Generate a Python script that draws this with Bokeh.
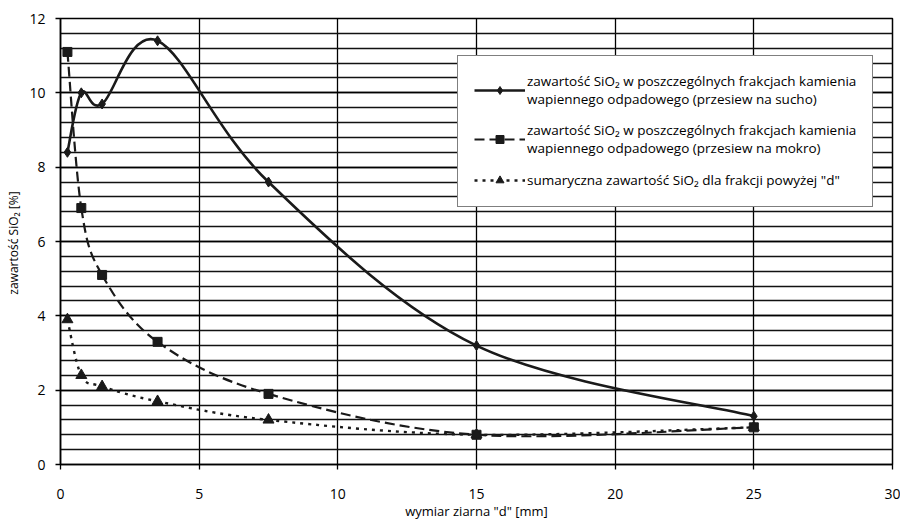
import numpy as np
from bokeh.plotting import figure
from bokeh.models import (ColumnDataSource, Legend, LegendItem, SingleIntervalTicker,
                          Range1d)
from bokeh.embed import file_html
from bokeh.resources import INLINE

# ---- data ----
d_mm = [0.25, 0.75, 1.5, 3.5, 7.5, 15, 25]
sucho = [8.4, 10.0, 9.7, 11.4, 7.6, 3.2, 1.3]
mokro = [11.1, 6.9, 5.1, 3.3, 1.9, 0.8, 1.0]
sumaryczna = [3.9, 2.4, 2.1, 1.7, 1.2, 0.8, 1.0]

labels = [
    "zawartość SiO₂ w poszczególnych frakcjach kamienia\nwapiennego odpadowego (przesiew na sucho)",
    "zawartość SiO₂ w poszczególnych frakcjach kamienia\nwapiennego odpadowego (przesiew na mokro)",
    "sumaryczna zawartość SiO₂ dla frakcji powyżej \"d\"",
]

FONT = "Open Sans"


def smooth_segments(xs, ys):
    """Cubic Bezier segments (Catmull-Rom style control points) through the points."""
    x = np.asarray(xs, float)
    y = np.asarray(ys, float)
    xp = np.concatenate([[x[0]], x, [x[-1]]])
    yp = np.concatenate([[y[0]], y, [y[-1]]])
    n = len(x)
    x0, y0, x1, y1, cx0, cy0, cx1, cy1 = [], [], [], [], [], [], [], []
    for i in range(n - 1):
        p0 = (xp[i], yp[i]); p1 = (xp[i + 1], yp[i + 1])
        p2 = (xp[i + 2], yp[i + 2]); p3 = (xp[i + 3], yp[i + 3])
        x0.append(p1[0]); y0.append(p1[1]); x1.append(p2[0]); y1.append(p2[1])
        cx0.append(p1[0] + (p2[0] - p0[0]) / 6.0)
        cy0.append(p1[1] + (p2[1] - p0[1]) / 6.0)
        cx1.append(p2[0] - (p3[0] - p1[0]) / 6.0)
        cy1.append(p2[1] - (p3[1] - p1[1]) / 6.0)
    return ColumnDataSource(dict(x0=x0, y0=y0, x1=x1, y1=y1,
                                 cx0=cx0, cy0=cy0, cx1=cx1, cy1=cy1))


p = figure(width=900, height=522, output_backend="svg", toolbar_location=None,
           x_range=Range1d(0, 30), y_range=Range1d(0, 12),
           min_border_left=60, min_border_right=8, min_border_top=18,
           min_border_bottom=58)
p.background_fill_color = "white"
p.border_fill_color = "white"
p.outline_line_color = "black"
p.outline_line_width = 1.5

p.xaxis.ticker = SingleIntervalTicker(interval=5, num_minor_ticks=0)
p.yaxis.ticker = SingleIntervalTicker(interval=2, num_minor_ticks=5)

p.xgrid.grid_line_color = "black"
p.xgrid.grid_line_width = 1.3
p.ygrid.grid_line_color = "black"
p.ygrid.grid_line_width = 1.3
p.ygrid.minor_grid_line_color = "#111111"
p.ygrid.minor_grid_line_width = 1.3

for ax in (p.xaxis, p.yaxis):
    ax.axis_line_color = "black"
    ax.axis_line_width = 1.5
    ax.major_tick_line_color = "black"
    ax.major_tick_line_width = 1.3
    ax.major_tick_out = 5
    ax.major_tick_in = 0
    ax.minor_tick_out = 0
    ax.minor_tick_in = 0
    ax.major_label_text_font = FONT
    ax.major_label_text_font_size = "14px"
    ax.major_label_text_color = "black"
    ax.axis_label_text_font = FONT
    ax.axis_label_text_font_style = "normal"
    ax.axis_label_text_color = "black"

p.xaxis.axis_label_text_font_size = "13px"
p.yaxis.axis_label_text_font_size = "12px"
p.xaxis.major_label_standoff = 19
p.yaxis.major_label_standoff = 10
p.xaxis.axis_label = 'wymiar ziarna "d" [mm]'
p.yaxis.axis_label = "zawartość SiO₂  [%]"
p.xaxis.axis_label_standoff = 0
p.yaxis.axis_label_standoff = 4

styles = [
    dict(data=sucho, dash="solid", width=2.6, marker="diamond", size=10),
    dict(data=mokro, dash="10 5", width=2.2, marker="square", size=9),
    dict(data=sumaryczna, dash="3 5", width=2.4, marker="triangle", size=11),
]

items = []
for st, lab in zip(styles, labels):
    src = smooth_segments(d_mm, st["data"])
    p.bezier(x0="x0", y0="y0", x1="x1", y1="y1", cx0="cx0", cy0="cy0",
             cx1="cx1", cy1="cy1", source=src, line_color="#1a1a1a",
             line_width=st["width"], line_dash=st["dash"])
    leg_line = p.line(x=[np.nan], y=[np.nan], line_color="#1a1a1a",
                      line_width=st["width"], line_dash=st["dash"])
    sc = p.scatter(x=d_mm, y=st["data"], marker=st["marker"], size=st["size"],
                   fill_color="#1a1a1a", line_color="#1a1a1a")
    items.append(LegendItem(label=lab, renderers=[leg_line, sc]))

legend = Legend(items=items, location=(397, 257))
legend.border_line_color = "black"
legend.border_line_width = 1.5
legend.background_fill_color = "white"
legend.background_fill_alpha = 1.0
legend.label_text_font = FONT
legend.label_text_font_size = "13.5px"
legend.label_text_color = "black"
legend.glyph_width = 51
legend.label_standoff = 2
legend.padding = 16
legend.spacing = 13
legend.margin = 0
p.add_layout(legend, "center")

open("out.html", "w").write(file_html(p, INLINE))
